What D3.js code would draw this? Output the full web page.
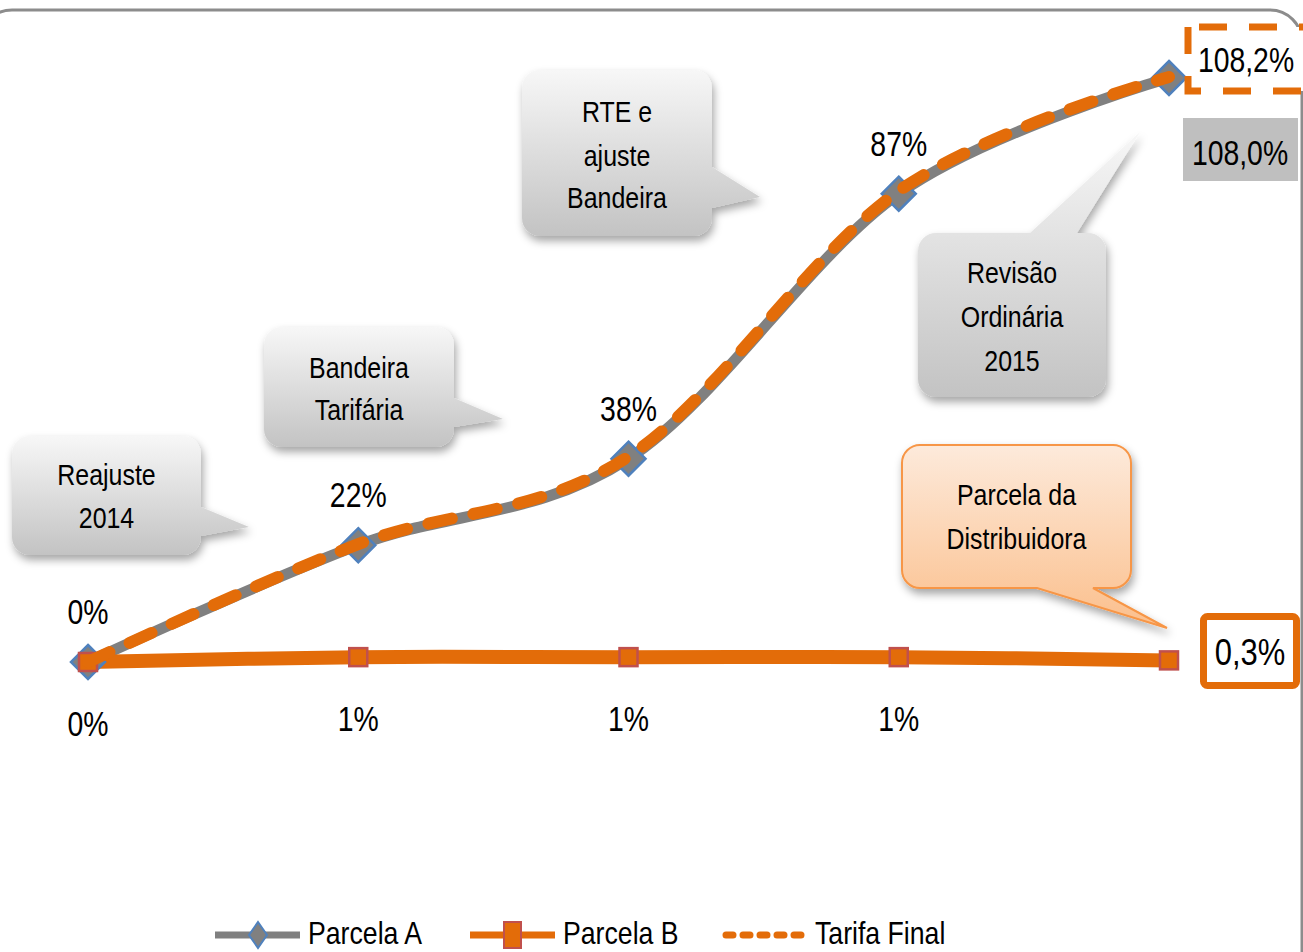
<!DOCTYPE html>
<html><head><meta charset="utf-8">
<script src="https://cdn.jsdelivr.net/npm/d3@7"></script>
<style>
html,body{margin:0;padding:0;background:#fff;}
svg{display:block;}
text{font-family:"Liberation Sans",Arial,sans-serif;fill:#000;}
</style></head>
<body>
<svg id="chart" width="1303" height="952"></svg>
<script>
// ---------- data ----------
const categories = ["T0", "T1", "T2", "T3", "T4"];
const parcelaA = [0, 21.6, 37.6, 86.6, 108.0];
const parcelaB = [0, 0.9, 0.9, 0.9, 0.3];
const tarifaFinal = [0, 21.8, 38.0, 87.1, 108.2];
const labelsA = ["0%", "22%", "38%", "87%"];
const labelsB = ["0%", "1%", "1%", "1%"];
const endLabelA = "108,0%";
const endLabelT = "108,2%";
const endLabelB = "0,3%";
const seriesNames = ["Parcela A", "Parcela B", "Tarifa Final"];
const calloutTexts = [
  ["Reajuste", "2014"],
  ["Bandeira", "Tarifária"],
  ["RTE e", "ajuste", "Bandeira"],
  ["Revisão", "Ordinária", "2015"],
  ["Parcela da", "Distribuidora"]
];

const svg = d3.select("#chart");
const defs = svg.append("defs");

const gGray = defs.append("linearGradient").attr("id","gGray").attr("x1",0).attr("y1",0).attr("x2",0).attr("y2",1);
gGray.append("stop").attr("offset","0%").attr("stop-color","#f7f7f7");
gGray.append("stop").attr("offset","100%").attr("stop-color","#c3c3c3");
const gOr = defs.append("linearGradient").attr("id","gOr").attr("x1",0).attr("y1",0).attr("x2",0).attr("y2",1);
gOr.append("stop").attr("offset","0%").attr("stop-color","#fdeadb");
gOr.append("stop").attr("offset","100%").attr("stop-color","#fbbf8c");
const sh = defs.append("filter").attr("id","shadow").attr("x","-20%").attr("y","-20%").attr("width","150%").attr("height","150%");
sh.append("feDropShadow").attr("dx",2).attr("dy",5).attr("stdDeviation",4).attr("flood-color","#000").attr("flood-opacity",0.35);

// narrow text helper (Calibri-like proportions)
function addText(sel, tx, ty, str, size, anchor) {
  return sel.append("text")
    .attr("transform", `translate(${tx},${ty}) scale(0.86,1.04)`)
    .attr("text-anchor", anchor || "middle")
    .attr("dominant-baseline", anchor === "start" ? "auto" : "central")
    .style("font-size", size + "px").text(str);
}

// chart frame
svg.append("rect").attr("x",-20).attr("y",10).attr("width",1322).attr("height",1000)
  .attr("rx",32).attr("fill","none").attr("stroke","#8c8c8c").attr("stroke-width",3);

// ---------- scales ----------
const x = d3.scalePoint().domain(categories).range([88, 1169]);
const y = d3.scaleLinear().domain([0, 108]).range([662, 78]);

const curve = d3.curveCardinal.tension(0);
const line = d3.line().x((d,i)=>x(categories[i])).y(d=>y(d)).curve(curve);

// ---------- callouts ----------
function callout(bx, by, w, h, r, side, a, b, tx, ty) {
  const p = d3.path();
  p.moveTo(bx + r, by);
  if (side === "top") { p.lineTo(a, by); p.lineTo(tx, ty); p.lineTo(b, by); }
  p.lineTo(bx + w - r, by);
  p.arcTo(bx + w, by, bx + w, by + r, r);
  if (side === "right") { p.lineTo(bx + w, a); p.lineTo(tx, ty); p.lineTo(bx + w, b); }
  p.lineTo(bx + w, by + h - r);
  p.arcTo(bx + w, by + h, bx + w - r, by + h, r);
  if (side === "bottom") { p.lineTo(a, by + h); p.lineTo(tx, ty); p.lineTo(b, by + h); }
  p.lineTo(bx + r, by + h);
  p.arcTo(bx, by + h, bx, by + h - r, r);
  p.lineTo(bx, by + r);
  p.arcTo(bx, by, bx + r, by, r);
  p.closePath();
  return p.toString();
}
const callouts = [
  {box:[12,436,189,119], side:"right", a:507, b:536, tip:[249,527], text:calloutTexts[0], ty:[475,518], fill:"url(#gGray)", stroke:"none"},
  {box:[264,327,190,120], side:"right", a:398, b:427, tip:[503,419], text:calloutTexts[1], ty:[368,410], fill:"url(#gGray)", stroke:"none"},
  {box:[522,70,190,166], side:"right", a:167, b:208, tip:[760,197], text:calloutTexts[2], ty:[112,156,198], fill:"url(#gGray)", stroke:"none"},
  {box:[918,233,188,164], side:"top", a:1030, b:1077, tip:[1140,132], text:calloutTexts[3], ty:[273,317,361], fill:"url(#gGray)", stroke:"none"},
  {box:[902,445,229,143], side:"bottom", a:1093, b:1037, tip:[1167,628], text:calloutTexts[4], ty:[495,539], fill:"url(#gOr)", stroke:"#f79646"}
];
const cg = svg.append("g");
callouts.forEach(c => {
  const [bx,by,w,h] = c.box;
  cg.append("path").attr("d", callout(bx,by,w,h,18,c.side,c.a,c.b,c.tip[0],c.tip[1]))
    .attr("fill", c.fill).attr("stroke", c.stroke).attr("stroke-width", 2).attr("filter","url(#shadow)");
  c.text.forEach((t,i) => addText(cg, bx + w/2, c.ty[i], t, 29));
});

// ---------- lines ----------
svg.append("path").datum(parcelaA).attr("d", line).attr("fill","none")
  .attr("stroke","#808080").attr("stroke-width",11);
svg.append("path").datum(parcelaB).attr("d", line).attr("fill","none")
  .attr("stroke","#e36c09").attr("stroke-width",14);

// markers A (diamonds)
const dsz = 17;
svg.append("g").selectAll("path").data(parcelaA).join("path")
  .attr("d", (d,i)=>{const cx=x(categories[i]), cy=y(d); return `M${cx},${cy-dsz}L${cx+dsz},${cy}L${cx},${cy+dsz}L${cx-dsz},${cy}Z`;})
  .attr("fill","#808080").attr("stroke","#4f81bd").attr("stroke-width",2.5);
// markers B (squares)
svg.append("g").selectAll("rect").data(parcelaB).join("rect")
  .attr("x",(d,i)=>x(categories[i])-9).attr("y",d=>y(d)-9).attr("width",18).attr("height",18)
  .attr("fill","#e36c09").attr("stroke","#c0504d").attr("stroke-width",2.5);

// Tarifa final dashed
svg.append("path").datum(tarifaFinal).attr("d", line).attr("fill","none")
  .attr("stroke","#e36c09").attr("stroke-width",12).attr("stroke-linecap","round")
  .attr("stroke-dasharray","24 22");

// ---------- data labels ----------
const lbl = 33;
labelsA.forEach((t,i) => addText(svg, x(categories[i]), y(parcelaA[i]) - 50, t, lbl));
labelsB.forEach((t,i) => addText(svg, x(categories[i]), y(parcelaB[i]) + 62, t, lbl));

// end labels
svg.append("rect").attr("x",1188).attr("y",27).attr("width",130).attr("height",64)
  .attr("fill","#fff").attr("stroke","#e36c09").attr("stroke-width",7)
  .attr("stroke-dasharray","28 22").attr("stroke-dashoffset",-11);
addText(svg, 1246, 60, endLabelT, lbl);
svg.append("rect").attr("x",1183).attr("y",118).attr("width",115).attr("height",63).attr("fill","#bfbfbf");
addText(svg, 1240, 153, endLabelA, lbl);
svg.append("rect").attr("x",1203.5).attr("y",616.5).attr("width",93).attr("height",69).attr("rx",4)
  .attr("fill","#fff").attr("stroke","#e36c09").attr("stroke-width",7);
addText(svg, 1250, 652, endLabelB, 36);

// ---------- legend ----------
const lg = svg.append("g");
const ly = 935;
const legendItems = [
  {x0:215, name:seriesNames[0], type:"A"},
  {x0:470, name:seriesNames[1], type:"B"},
  {x0:722, name:seriesNames[2], type:"T"}
];
legendItems.forEach(it => {
  if (it.type === "A") {
    lg.append("line").attr("x1",it.x0).attr("x2",it.x0+85).attr("y1",ly).attr("y2",ly).attr("stroke","#808080").attr("stroke-width",7);
    const cx = it.x0+43;
    lg.append("path").attr("d",`M${cx},${ly-13}L${cx+9},${ly}L${cx},${ly+13}L${cx-9},${ly}Z`).attr("fill","#808080").attr("stroke","#4f81bd").attr("stroke-width",2);
  } else if (it.type === "B") {
    lg.append("line").attr("x1",it.x0).attr("x2",it.x0+85).attr("y1",ly).attr("y2",ly).attr("stroke","#e36c09").attr("stroke-width",7);
    lg.append("rect").attr("x",it.x0+34).attr("y",ly-13).attr("width",17).attr("height",26).attr("fill","#e36c09").attr("stroke","#c0504d").attr("stroke-width",2);
  } else {
    lg.append("line").attr("x1",it.x0+4).attr("x2",it.x0+85).attr("y1",ly).attr("y2",ly).attr("stroke","#e36c09").attr("stroke-width",7)
      .attr("stroke-linecap","round").attr("stroke-dasharray","7 10");
  }
  addText(lg, it.x0+93, 944, it.name, 31, "start");
});
</script>
</body></html>
